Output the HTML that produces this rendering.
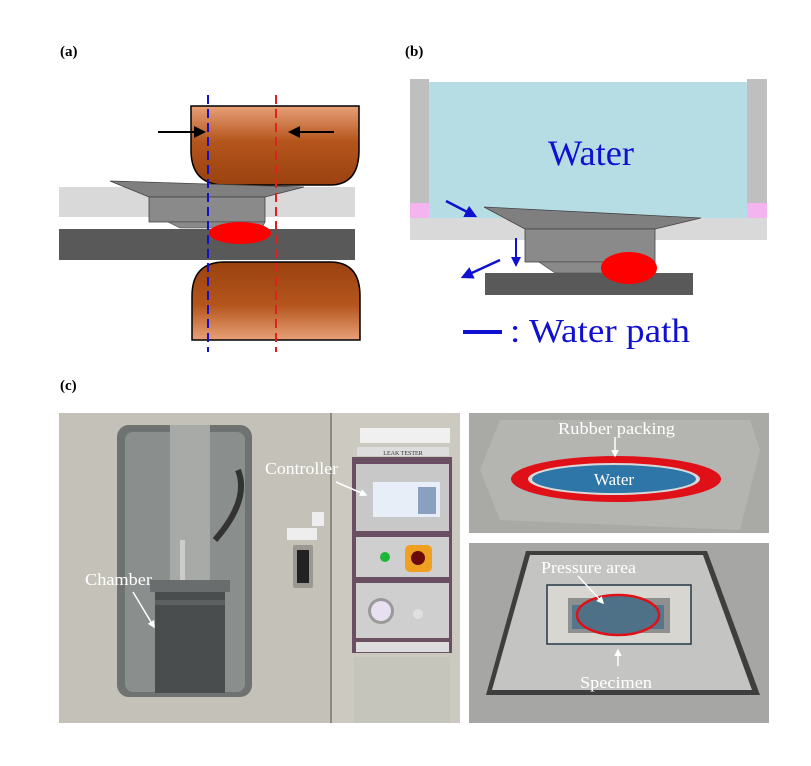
<!DOCTYPE html>
<html><head><meta charset="utf-8"><style>
html,body{margin:0;padding:0;background:#fff;}
svg{display:block;}
text{font-family:"Liberation Serif",serif;}
</style></head><body>
<svg width="811" height="766" viewBox="0 0 811 766" xmlns="http://www.w3.org/2000/svg">
<defs>
<linearGradient id="cu" x1="0" y1="0" x2="0" y2="1">
<stop offset="0" stop-color="#e8a078"/><stop offset="0.45" stop-color="#b4551c"/><stop offset="1" stop-color="#9a4210"/></linearGradient>
<linearGradient id="cu2" x1="0" y1="1" x2="0" y2="0">
<stop offset="0" stop-color="#e8a078"/><stop offset="0.45" stop-color="#b4551c"/><stop offset="1" stop-color="#9a4210"/></linearGradient>
<marker id="ab" markerWidth="6" markerHeight="6" refX="5" refY="3" orient="auto"><path d="M0,0 L6,3 L0,6 z" fill="#000"/></marker>
<marker id="bl" markerWidth="5" markerHeight="5" refX="4" refY="2.5" orient="auto"><path d="M0,0 L5,2.5 L0,5 z" fill="#1010d0"/></marker>
<marker id="wh" markerWidth="5" markerHeight="5" refX="4" refY="2.5" orient="auto"><path d="M0,0 L5,2.5 L0,5 z" fill="#fff"/></marker>
</defs>

<!-- (a) -->
<text x="60" y="56" font-size="15" font-weight="bold">(a)</text>
<rect x="59" y="187" width="296" height="30" fill="#d9d9d9"/>
<rect x="59" y="229" width="296" height="31" fill="#595959"/>
<path d="M191,106 H359 V150 Q359,185 330,185 H225 Q191,185 191,150 Z" fill="url(#cu)" stroke="#000" stroke-width="1.5"/>
<path d="M192,340 H360 V296 Q360,262 330,262 H225 Q192,262 192,296 Z" fill="url(#cu2)" stroke="#000" stroke-width="1.5"/>
<polygon points="110,181 304,187 265,197 149,197" fill="#7f7f7f" stroke="#444" stroke-width="0.8"/>
<rect x="149" y="197" width="116" height="25" fill="#8a8a8a" stroke="#444" stroke-width="0.8"/>
<polygon points="168,222 265,222 262,228 180,228" fill="#8a8a8a" stroke="#444" stroke-width="0.6"/>
<ellipse cx="240" cy="233" rx="31" ry="11" fill="#ff0000"/>
<line x1="208" y1="95" x2="208" y2="352" stroke="#1010d0" stroke-width="2" stroke-dasharray="9,5"/>
<line x1="276" y1="95" x2="276" y2="352" stroke="#e02020" stroke-width="2" stroke-dasharray="9,5"/>
<line x1="158" y1="132" x2="204" y2="132" stroke="#000" stroke-width="2" marker-end="url(#ab)"/>
<line x1="334" y1="132" x2="290" y2="132" stroke="#000" stroke-width="2" marker-end="url(#ab)"/>

<!-- (b) -->
<text x="405" y="56" font-size="15" font-weight="bold">(b)</text>
<rect x="429" y="82" width="318" height="136" fill="#b7dde4"/>
<rect x="410" y="79" width="19" height="124" fill="#bfbfbf"/>
<rect x="747" y="79" width="20" height="124" fill="#bfbfbf"/>
<rect x="410" y="203" width="19" height="15" fill="#f4b4f0"/>
<rect x="747" y="203" width="20" height="15" fill="#f4b4f0"/>
<rect x="410" y="218" width="357" height="22" fill="#d9d9d9"/>
<polygon points="484,207 701,218 655,229 525,229" fill="#7f7f7f" stroke="#444" stroke-width="0.8"/>
<rect x="525" y="229" width="130" height="33" fill="#8a8a8a" stroke="#444" stroke-width="0.8"/>
<polygon points="539,262 650,262 640,273 555,273" fill="#8a8a8a" stroke="#444" stroke-width="0.6"/>
<rect x="485" y="273" width="208" height="22" fill="#595959"/>
<ellipse cx="629" cy="268" rx="28" ry="16" fill="#ff0000"/>
<text x="548" y="165" font-size="36" fill="#1010d0" textLength="86" lengthAdjust="spacingAndGlyphs">Water</text>
<line x1="446" y1="201" x2="475" y2="216" stroke="#1010d0" stroke-width="2.5" marker-end="url(#bl)"/>
<line x1="516" y1="238" x2="516" y2="265" stroke="#1010d0" stroke-width="2" marker-end="url(#bl)"/>
<line x1="500" y1="260" x2="463" y2="277" stroke="#1010d0" stroke-width="2.5" marker-end="url(#bl)"/>
<line x1="463" y1="332" x2="502" y2="332" stroke="#1010d0" stroke-width="4"/>
<text x="510" y="342" font-size="34" fill="#1010d0" textLength="180" lengthAdjust="spacingAndGlyphs">: Water path</text>

<!-- (c) -->
<text x="60" y="390" font-size="15" font-weight="bold">(c)</text>
<rect x="59" y="413" width="401" height="310" fill="#c4c2b8"/>
<rect x="331" y="413" width="129" height="310" fill="#cbc9c0"/>
<line x1="331" y1="413" x2="331" y2="723" stroke="#8a887f" stroke-width="2"/>
<rect x="117" y="425" width="135" height="272" rx="12" fill="#6e7270"/>
<rect x="125" y="432" width="120" height="260" rx="8" fill="#8a8e8c"/>
<rect x="170" y="425" width="40" height="160" fill="#a8aaa8"/>
<rect x="180" y="540" width="5" height="50" fill="#ccc"/>
<path d="M238,470 Q250,500 215,540" stroke="#333" stroke-width="6" fill="none"/>
<rect x="155" y="583" width="70" height="110" fill="#4a4d4e"/>
<rect x="150" y="580" width="80" height="12" fill="#6a6d6e"/>
<rect x="155" y="600" width="70" height="5" fill="#5e6162"/>
<rect x="293" y="545" width="20" height="43" rx="2" fill="#9a9890"/>
<rect x="297" y="550" width="12" height="33" fill="#222"/>
<rect x="287" y="528" width="30" height="12" fill="#eee"/>
<rect x="312" y="512" width="12" height="14" fill="#eee"/>
<rect x="352" y="457" width="100" height="196" fill="#6a4f62"/>
<rect x="360" y="428" width="90" height="15" fill="#f0f0f0"/>
<rect x="357" y="447" width="92" height="9" fill="#ddd"/>
<text x="403" y="455" font-size="6" font-family="Liberation Sans" text-anchor="middle" fill="#333">LEAK TESTER</text>
<rect x="356" y="464" width="93" height="67" fill="#c8c8c8"/>
<rect x="373" y="482" width="67" height="35" fill="#e8eef8"/>
<rect x="418" y="487" width="18" height="27" fill="#8aa0c0"/>
<rect x="356" y="537" width="93" height="40" fill="#cfcfcf"/>
<circle cx="385" cy="557" r="5" fill="#1db83a"/>
<rect x="405" y="545" width="27" height="27" rx="5" fill="#f0a020"/>
<circle cx="418" cy="558" r="7" fill="#6a0a0a"/>
<rect x="356" y="583" width="93" height="55" fill="#cfcfcf"/>
<circle cx="381" cy="611" r="13" fill="#999"/>
<circle cx="381" cy="611" r="10" fill="#e8e0f0"/>
<circle cx="418" cy="614" r="5" fill="#e0e0e0"/>
<rect x="356" y="642" width="93" height="10" fill="#ddd"/>
<rect x="354" y="657" width="96" height="66" fill="#c6c5bc"/>
<text x="265" y="474" font-size="17" fill="#fff" textLength="73" lengthAdjust="spacingAndGlyphs">Controller</text>
<line x1="336" y1="482" x2="366" y2="495" stroke="#fff" stroke-width="1.5" marker-end="url(#wh)"/>
<text x="85" y="585" font-size="17" fill="#fff" textLength="67" lengthAdjust="spacingAndGlyphs">Chamber</text>
<line x1="133" y1="592" x2="154" y2="627" stroke="#fff" stroke-width="1.5" marker-end="url(#wh)"/>

<rect x="469" y="413" width="300" height="120" fill="#a9a9a6"/>
<polygon points="500,420 750,420 760,450 740,530 500,520 480,470" fill="#b4b4b0"/>
<ellipse cx="616" cy="479" rx="105" ry="23" fill="#e01018"/>
<ellipse cx="614" cy="479" rx="86" ry="16" fill="#d8d8d8"/>
<ellipse cx="614" cy="479" rx="82" ry="14" fill="#2f76a8"/>
<text x="558" y="434" font-size="17" fill="#fff" textLength="117" lengthAdjust="spacingAndGlyphs">Rubber packing</text>
<line x1="615" y1="437" x2="615" y2="456" stroke="#fff" stroke-width="1.5" marker-end="url(#wh)"/>
<text x="614" y="485" font-size="17" fill="#fff" text-anchor="middle">Water</text>

<rect x="469" y="543" width="300" height="180" fill="#a6a6a4"/>
<polygon points="526,551 707,551 760,695 486,695" fill="#3e3e3e"/>
<polygon points="530,555 703,555 752,690 492,690" fill="#c4c5c2"/>
<rect x="547" y="585" width="144" height="59" fill="#d7d6d0" stroke="#243848" stroke-width="1.5"/>
<rect x="568" y="598" width="102" height="35" fill="#8e9090"/>
<rect x="572" y="605" width="92" height="24" fill="#56768c"/>
<ellipse cx="618" cy="615" rx="41" ry="20" fill="#4f7188" stroke="#e01018" stroke-width="2.5"/>
<text x="541" y="573" font-size="17" fill="#fff" textLength="95" lengthAdjust="spacingAndGlyphs">Pressure area</text>
<line x1="578" y1="576" x2="603" y2="603" stroke="#fff" stroke-width="1.5" marker-end="url(#wh)"/>
<line x1="618" y1="666" x2="618" y2="650" stroke="#fff" stroke-width="1.5" marker-end="url(#wh)"/>
<text x="580" y="688" font-size="17" fill="#fff" textLength="72" lengthAdjust="spacingAndGlyphs">Specimen</text>
</svg>
</body></html>
